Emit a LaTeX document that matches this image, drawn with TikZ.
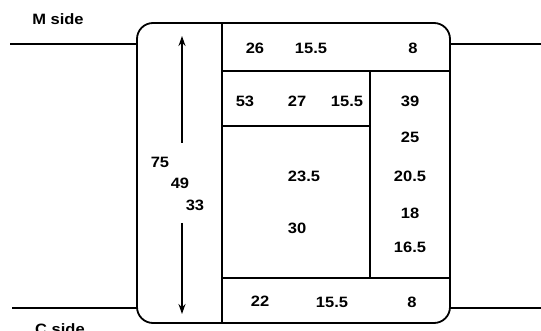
\documentclass[tikz,border=0pt]{standalone}
\usepackage{fontspec}
\setmainfont{Liberation Sans}
\newfontfamily\numfont[FakeStretch=1.1]{Liberation Sans}
\usetikzlibrary{arrows.meta}
\begin{document}
\begin{tikzpicture}[x=1pt,y=-1pt,
  wall/.style={line width=1.8pt},
  num/.style={font=\numfont\bfseries\fontsize{15}{17}\selectfont, inner sep=0pt},
  dimarrow/.style={line width=1.8pt,-{Stealth[length=10pt,width=7pt]}}]
\useasboundingbox (0,0) rectangle (541,331);
% outer box
\draw[wall, rounded corners=16pt] (137,23) rectangle (450,323);
% outside lines
\coordinate (ml1) at (10,44); \coordinate (ml2) at (137,44);
\coordinate (mr1) at (450,44); \coordinate (mr2) at (541,44);
\coordinate (cl1) at (12,308); \coordinate (cl2) at (137,308);
\coordinate (cr1) at (450,308); \coordinate (cr2) at (541,308);
\draw[wall] (ml1) -- (ml2);
\draw[wall] (mr1) -- (mr2);
\draw[wall] (cl1) -- (cl2);
\draw[wall] (cr1) -- (cr2);
% inner partitions
\draw[wall] (222,23) -- (222,323);
\draw[wall] (222,71) -- (450,71);
\draw[wall] (222,126) -- (370,126);
\draw[wall] (370,71) -- (370,278);
\draw[wall] (222,278) -- (450,278);
% arrows
\coordinate (au1) at (182,143); \coordinate (au2) at (182,36);
\coordinate (ad1) at (182,223); \coordinate (ad2) at (182,314);
\draw[dimarrow] (au1) -- (au2);
\draw[dimarrow] (ad1) -- (ad2);
% labels
\node[num] (mside) at (58,19) {M side};
\node[num] (cside) at (60,329) {C side};
\node[num] (t26) at (255,48) {26};
\node[num] (t155a) at (311,48) {15.5};
\node[num] (t8a) at (413,48) {8};
\node[num] (t53) at (245,101) {53};
\node[num] (t27) at (297,101) {27};
\node[num] (t155b) at (347,101) {15.5};
\node[num] (t39) at (410,101) {39};
\node[num] (t25) at (410,137) {25};
\node[num] (t235) at (304,176) {23.5};
\node[num] (t205) at (410,176) {20.5};
\node[num] (t18) at (410,213) {18};
\node[num] (t165) at (410,247) {16.5};
\node[num] (t30) at (297,228) {30};
\node[num] (t22) at (260,301) {22};
\node[num] (t155c) at (332,302) {15.5};
\node[num] (t8b) at (412,302) {8};
\node[num] (t75) at (160,162) {75};
\node[num] (t49) at (180,183) {49};
\node[num] (t33) at (195,205) {33};
\end{tikzpicture}
\end{document}
